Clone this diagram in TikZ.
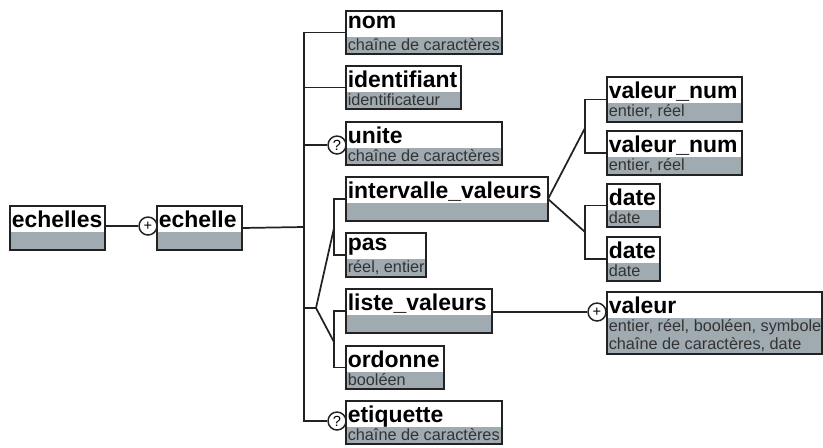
\documentclass[tikz,border=0pt]{standalone}
\usepackage{fontspec}
\newfontfamily\elfont{Liberation Sans}
\usetikzlibrary{positioning}

\definecolor{bandgray}{RGB}{160,170,177}
\definecolor{edgegray}{RGB}{34,34,34}
\definecolor{subgray}{RGB}{51,51,51}

\tikzset{
  elbox/.style={draw=edgegray, line width=1.4pt, rectangle, anchor=north west, inner sep=0pt, outer sep=0pt},
  eltitle/.style={anchor=north west, inner sep=0pt, font=\elfont\bfseries\fontsize{17.2}{20}\selectfont},
  elsub/.style={anchor=base west, inner sep=0pt, text=subgray, font=\elfont\fontsize{12.2}{14}\selectfont},
  link/.style={draw=edgegray, line width=1.3pt},
  card/.style={circle, draw=edgegray, line width=1.1pt, fill=white, inner sep=0pt, minimum size=13.5pt, font=\elfont\fontsize{11}{11}\selectfont}
}

% one schema element: name, left, top, width, height, title, type
\newcommand\elem[7]{%
  \fill[bandgray] (#2,#3+26) rectangle ++(#4,#5-26);
  \node[elbox, minimum width=#4*0.75pt, minimum height=#5*0.75pt] (#1) at (#2,#3) {};
  \node[eltitle] (#1-t) at (#2+1.5,#3+4.5) {#6};
  \node[elsub] (#1-s) at (#2+1.5,#3+39) {#7};
}

\begin{document}
\begin{tikzpicture}[x=0.75pt, y=-0.75pt]
  \useasboundingbox (0,0) rectangle (823,447);

  % root
  \elem{echelles}{10}{206}{95}{44}{echelles}{}
  \elem{echelle}{157}{206}{85}{44}{echelle}{}
  \node[card] (plus1) at (148,226) {+};

  % children of echelle
  \elem{nom}{346}{11}{156}{43}{nom}{chaîne de caractères}
  \elem{identifiant}{346}{66}{115}{43}{identifiant}{identificateur}
  \elem{unite}{346}{122}{156}{43}{unite}{chaîne de caractères}
  \elem{intervalle}{346}{177}{202}{44}{intervalle\_valeurs}{}
  \elem{pas}{346}{233}{80}{44}{pas}{réel, entier}
  \elem{liste}{346}{289}{146}{44}{liste\_valeurs}{}
  \elem{ordonne}{346}{346}{98}{43}{ordonne}{booléen}
  \elem{etiquette}{346}{401}{156}{43}{etiquette}{chaîne de caractères}
  \node[card] (unite-opt) at (337,145) {?};
  \node[card] (etiquette-opt) at (337,421) {?};

  % bounds of intervalle_valeurs
  \elem{vnum1}{607}{77}{135}{45}{valeur\_num}{entier, réel}
  \elem{vnum2}{607}{131}{135}{44}{valeur\_num}{entier, réel}
  \elem{date1}{607}{184}{53}{43}{date}{date}
  \elem{date2}{607}{237}{53}{44}{date}{date}

  % values of liste_valeurs
  \elem{valeur}{607}{292}{215}{62}{valeur}{entier, réel, booléen, symbole}
  \node[elsub] (valeur-s2) at (608.5,349) {chaîne de caractères, date};
  \node[card] (plus2) at (597,312) {+};

  % connectors
  \coordinate (trunk) at (304,227);
  \coordinate (fork) at (316,308);
  \coordinate (grp1) at (334,228);
  \coordinate (grp2) at (334,342);
  \coordinate (grp3) at (585,128);
  \coordinate (grp4) at (585,232);

  \draw[link] (echelles.east |- plus1) -- (plus1);
  \draw[link] (echelle.east) -- (trunk);
  \draw[link] (nom.west) -| (trunk) |- (etiquette-opt);
  \draw[link] (identifiant.west) -- (identifiant.west -| trunk);
  \draw[link] (unite-opt) -- (unite-opt -| trunk);
  \draw[link] (trunk |- fork) -- (fork);

  \draw[link] (fork) -- (grp1);
  \draw[link] (fork) -- (grp2);
  \draw[link] (intervalle.west) -| (grp1) |- (pas.west);
  \draw[link] (liste.west) -| (grp2) |- (ordonne.west);

  \draw[link] (intervalle.east) -- (grp3);
  \draw[link] (intervalle.east) -- (grp4);
  \draw[link] (vnum1.west) -| (grp3) |- (vnum2.west);
  \draw[link] (date1.west) -| (grp4) |- (date2.west);

  \draw[link] (liste.east |- plus2) -- (plus2);
\end{tikzpicture}
\end{document}
